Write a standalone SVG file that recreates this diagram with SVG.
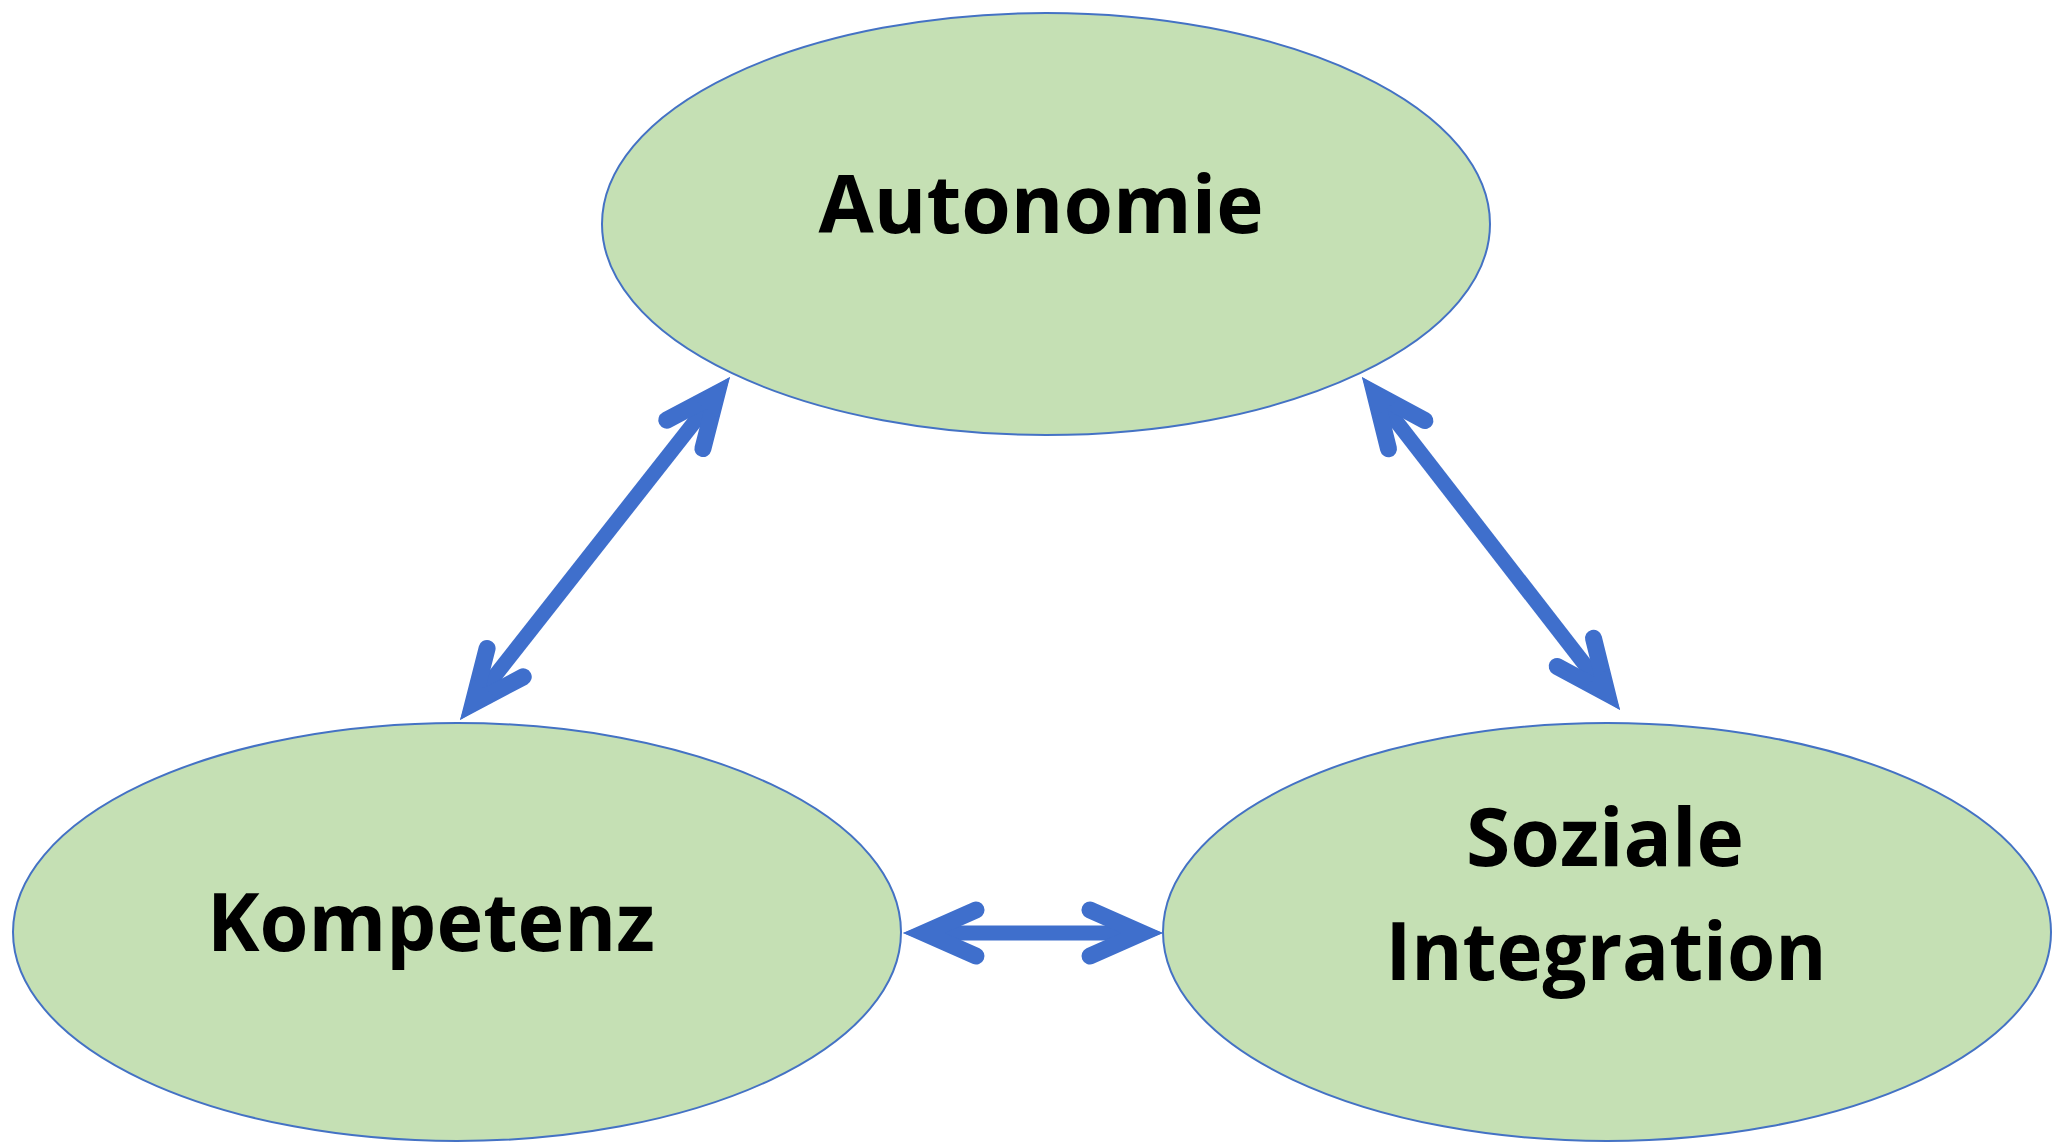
<svg xmlns="http://www.w3.org/2000/svg" width="2053" height="1143" viewBox="0 0 2053 1143">
<style>
.node ellipse{fill:#C5E0B4;stroke:#4472C4;stroke-width:2}
.node text{font-family:"Open Sans","Liberation Sans",sans-serif;font-weight:700;font-size:80px;fill:#000;text-anchor:middle}
.conn line{stroke:#3F6FCC;stroke-width:15;marker-start:url(#ah);marker-end:url(#ah)}
</style>
<defs>
<marker id="ah" markerUnits="userSpaceOnUse" viewBox="-80 -45 110 90" markerWidth="110" markerHeight="90" refX="0" refY="0" orient="auto-start-reverse" overflow="visible">
<path d="M -53 -23 L -1 0 L -53 23" fill="none" stroke="#3F6FCC" stroke-width="17" stroke-linecap="round" stroke-linejoin="miter" stroke-miterlimit="10"/>
<path d="M 20 0 L -20 -15 L -20 15 Z" fill="#3F6FCC"/>
</marker>
</defs>
<rect width="2053" height="1143" fill="#fff"/>
<g id="connectors" class="conn">
<line x1="472.4" y1="704.3" x2="717.6" y2="392.7"/>
<line x1="1374.2" y1="392.8" x2="1607.8" y2="694.2"/>
<line x1="923" y1="933" x2="1143" y2="933"/>
</g>
<g id="autonomie" class="node">
<ellipse cx="1046" cy="224" rx="444" ry="211"/>
<text x="1041" y="233" textLength="445" lengthAdjust="spacingAndGlyphs">Autonomie</text>
</g>
<g id="kompetenz" class="node">
<ellipse cx="457" cy="932" rx="444" ry="209"/>
<text x="431" y="951" textLength="448" lengthAdjust="spacingAndGlyphs">Kompetenz</text>
</g>
<g id="soziale-integration" class="node">
<ellipse cx="1607" cy="932" rx="444" ry="209"/>
<text x="1605" y="866" textLength="278" lengthAdjust="spacingAndGlyphs">Soziale</text>
<text x="1606" y="980" textLength="441" lengthAdjust="spacingAndGlyphs">Integration</text>
</g>
</svg>
